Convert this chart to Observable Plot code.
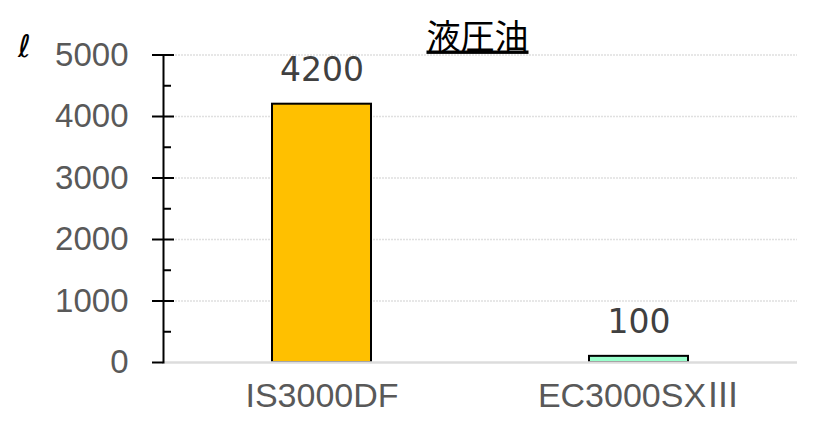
<!DOCTYPE html>
<html><head><meta charset="utf-8">
<script src="https://cdn.jsdelivr.net/npm/d3@7"></script>
<script src="https://cdn.jsdelivr.net/npm/@observablehq/plot@0.6"></script>
<style>body{margin:0;background:#fff}</style>
</head><body><div id="chart"></div>
<script>
const categories = ["IS3000DF", "EC3000SXⅢ"];
const values = [4200, 100];
const barColors = ["#FFC000", "#99FFCC"];
const majorTicks = [0, 1000, 2000, 3000, 4000, 5000];
const minorTicks = [500, 1500, 2500, 3500, 4500];
const title = "液圧油";
const unit = "ℓ";

const data = categories.map((c, i) => ({name: c, value: values[i], color: barColors[i]}));

const chart = Plot.plot({
  width: 836, height: 445,
  marginLeft: 163, marginRight: 39, marginTop: 54.5, marginBottom: 83,
  style: {fontFamily: "'Liberation Sans', Arial, sans-serif", background: "#fff"},
  x: {domain: categories, paddingInner: 0.6877, paddingOuter: 0.3438, axis: null, label: null},
  y: {domain: [0, 5000], axis: null, label: null},
  marks: [
    Plot.gridY(majorTicks.slice(1), {stroke: "#e0e0e0", strokeOpacity: 1, strokeWidth: 1.5, strokeDasharray: "2,1"}),
    Plot.barY(data, {x: "name", y: "value", fill: "color", stroke: "#000", strokeWidth: 2}),
    Plot.gridY([0], {stroke: "#dcdcdc", strokeOpacity: 1, strokeWidth: 2.5}),
    Plot.frame({anchor: "left", stroke: "#000", strokeWidth: 2}),
    Plot.axisY(majorTicks, {tickSize: 11, tickPadding: 24, fontSize: 33, fill: "#595959", stroke: "#000", strokeWidth: 2, tickFormat: d => String(d), label: null}),
    Plot.axisY(majorTicks.slice(1), {tickSize: 11, dx: 11, stroke: "#000", strokeWidth: 2, fill: "none", label: null}),
    Plot.axisY(minorTicks, {tickSize: 8, dx: 8, stroke: "#000", strokeWidth: 2, fill: "none", label: null}),
    Plot.text(data, {x: "name", y: "value", text: d => String(d.value), dy: -23, lineAnchor: "bottom", fontSize: 33, fill: "#404040", fontFamily: "'DejaVu Sans', sans-serif"}),
    Plot.axisX(categories, {tickSize: 0, tickPadding: 20, fontSize: 34, fill: "#595959", label: null, fontFamily: "'Liberation Sans', 'Noto Sans CJK JP', sans-serif"}),
    Plot.text([title], {frameAnchor: "top", dx: -3, dy: -6.5, lineAnchor: "bottom", fontSize: 34, fill: "#000", fontFamily: "'Noto Sans CJK JP', sans-serif", className: "ttl"}),
    Plot.text([unit], {frameAnchor: "top-left", textAnchor: "middle", dx: -139, dy: 1.5, lineAnchor: "bottom", fontSize: 31, fontStyle: "italic", fill: "#000", fontFamily: "'DejaVu Sans', sans-serif"})
  ]
});
d3.select(chart).selectAll(".ttl text").style("text-decoration", "underline");
document.getElementById("chart").appendChild(chart);
</script>
</body></html>
